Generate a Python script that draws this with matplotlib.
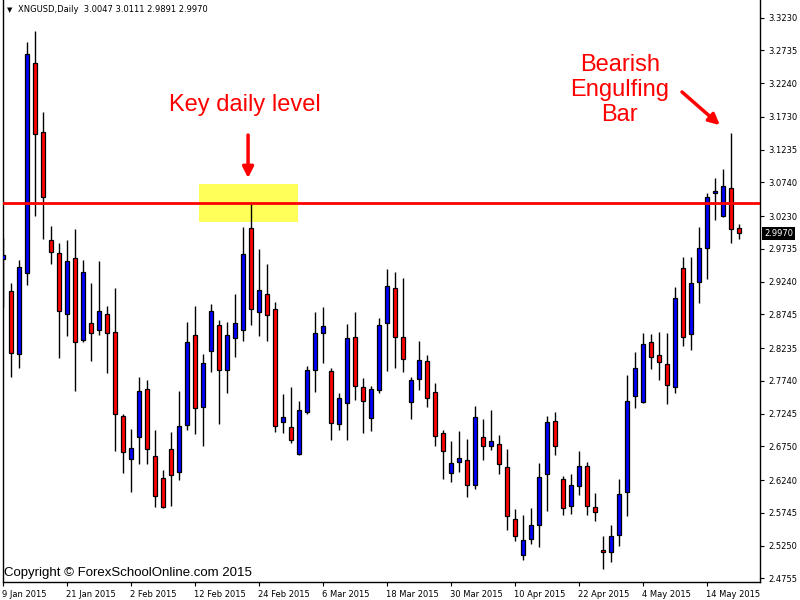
import matplotlib
matplotlib.use("Agg")
import matplotlib.pyplot as plt
import matplotlib.transforms as mtransforms
from matplotlib.patches import Rectangle
import numpy as np

# XNGUSD daily candles (open, high, low, close)
opens = [2.9583, 2.9098, 2.8145, 2.9371, 3.2549, 3.1505, 2.9870, 2.9673, 2.8750, 2.9598,
         2.8357, 2.8614, 2.8508, 2.8750, 2.8478, 2.7207, 2.6556, 2.6889, 2.7615, 2.6601,
         2.6268, 2.6707, 2.6359, 2.7070, 2.8433, 2.7343, 2.8190, 2.8584, 2.7903, 2.8387,
         2.8508, 3.0052, 2.8781, 2.9053, 2.8826, 2.7116, 2.7040, 2.6632, 2.7267, 2.7903,
         2.8463, 2.7888, 2.7086, 2.7403, 2.8402, 2.7646, 2.7176, 2.7600, 2.8614, 2.9144,
         2.8402, 2.7419, 2.7767, 2.8039, 2.7570, 2.6949, 2.6344, 2.6510, 2.6541, 2.6162,
         2.6889, 2.6753, 2.6783, 2.6435, 2.5648, 2.5103, 2.5345, 2.5557, 2.6329, 2.7131,
         2.6253, 2.5845, 2.6147, 2.6450, 2.5829, 2.5179, 2.5148, 2.5406, 2.6057, 2.7509,
         2.7419, 2.8327, 2.8130, 2.7994, 2.7646, 2.9447, 2.8448, 2.9235, 2.9749, 3.0582,
         3.0234, 3.0657, 3.0047]
highs = [2.9900, 2.9220, 2.9568, 3.2867, 3.3033, 3.1807, 3.0082, 2.9825, 2.9870, 3.0037,
         2.9568, 2.9220, 2.9552, 2.8871, 2.9144, 2.7237, 2.7010, 2.7797, 2.7752, 2.6995,
         2.6389, 2.6965, 2.7585, 2.8629, 2.8871, 2.8145, 2.8902, 2.8660, 2.8629, 2.9053,
         3.0067, 3.0430, 2.9734, 2.9507, 2.8932, 2.7540, 2.7646, 2.7434, 2.7963, 2.8781,
         2.8856, 2.7933, 2.7555, 2.8599, 2.8781, 2.7782, 2.7661, 2.8690, 2.9431, 2.9386,
         2.9295, 2.7797, 2.8342, 2.8130, 2.7706, 2.6995, 2.6828, 2.6980, 2.6859, 2.7358,
         2.7161, 2.7298, 2.6919, 2.6707, 2.5799, 2.5708, 2.5814, 2.6495, 2.7207, 2.7267,
         2.6299, 2.6329, 2.6677, 2.6510, 2.6041, 2.5391, 2.5557, 2.6253, 2.7827, 2.8175,
         2.8463, 2.8448, 2.8478, 2.8463, 2.9159, 2.9613, 2.9613, 3.0067, 3.0582, 3.0809,
         3.0945, 3.1490, 3.0111]
lows = [2.8856, 2.7797, 2.7933, 2.9189, 3.0234, 2.9885, 2.9507, 2.8084, 2.8417, 2.7585,
        2.8327, 2.8039, 2.8433, 2.7857, 2.6677, 2.6344, 2.6057, 2.6480, 2.6480, 2.5829,
        2.5814, 2.5845, 2.6238, 2.6995, 2.6934, 2.6753, 2.7873, 2.7086, 2.7555, 2.8100,
        2.8342, 2.8584, 2.8417, 2.8342, 2.6965, 2.6949, 2.6798, 2.6616, 2.7237, 2.7570,
        2.8009, 2.6843, 2.6995, 2.6843, 2.7449, 2.6949, 2.6980, 2.7555, 2.7888, 2.7933,
        2.7873, 2.7161, 2.7600, 2.7343, 2.6753, 2.6253, 2.6208, 2.6359, 2.5981, 2.6102,
        2.6541, 2.6692, 2.6329, 2.5481, 2.5315, 2.5027, 2.5270, 2.5224, 2.5769, 2.6616,
        2.5708, 2.5724, 2.6011, 2.5708, 2.5618, 2.4906, 2.4997, 2.5239, 2.5693, 2.7328,
        2.7403, 2.7918, 2.7752, 2.7388, 2.7555, 2.8266, 2.8206, 2.8917, 2.9280, 3.0173,
        3.0218, 2.9825, 2.9891]
closes = [2.9643, 2.8160, 2.9462, 3.2685, 3.1474, 3.0521, 2.9689, 2.8796, 2.9552, 2.8327,
          2.9386, 2.8463, 2.8796, 2.8463, 2.7237, 2.6662, 2.6722, 2.7585, 2.6707, 2.5996,
          2.5829, 2.6314, 2.7055, 2.8327, 2.7328, 2.8009, 2.8796, 2.7903, 2.8433, 2.8614,
          2.9658, 2.8826, 2.9114, 2.8735, 2.7055, 2.7192, 2.6843, 2.7298, 2.7903, 2.8463,
          2.8569, 2.7101, 2.7479, 2.8387, 2.7661, 2.7434, 2.7615, 2.8584, 2.9174, 2.8402,
          2.8069, 2.7752, 2.8054, 2.7479, 2.6904, 2.6677, 2.6495, 2.6571, 2.6162, 2.7192,
          2.6753, 2.6828, 2.6480, 2.5693, 2.5391, 2.5330, 2.5557, 2.6284, 2.7116, 2.6753,
          2.5814, 2.6162, 2.6450, 2.5845, 2.5754, 2.5148, 2.5391, 2.6026, 2.7434, 2.7933,
          2.8296, 2.8100, 2.8024, 2.7676, 2.8993, 2.8402, 2.9220, 2.9749, 3.0521, 3.0612,
          3.0688, 3.0040, 2.9970]

symbol = "XNGUSD,Daily"
key_level = 3.0430
zone_low, zone_high = 3.0147, 3.0718
zone_first_bar, zone_last_bar = 24.46, 36.8

price_ticks = [3.3230, 3.2735, 3.2240, 3.1730, 3.1235, 3.0740, 3.0230, 2.9735, 2.9240,
               2.8745, 2.8235, 2.7740, 2.7245, 2.6750, 2.6240, 2.5745, 2.5250, 2.4755]
date_tick_bars = [0, 8, 16, 24, 32, 40, 48, 56, 64, 72, 80, 88]
date_labels = ["9 Jan 2015", "21 Jan 2015", "2 Feb 2015", "12 Feb 2015", "24 Feb 2015",
               "6 Mar 2015", "18 Mar 2015", "30 Mar 2015", "10 Apr 2015", "22 Apr 2015",
               "4 May 2015", "14 May 2015"]

BULL = "#0000ff"
BEAR = "#ff0000"

fig = plt.figure(figsize=(8, 6), dpi=100)
ax = fig.add_axes([2.7 / 800, 18 / 600, 757.3 / 800, 582 / 600])
ax.set_facecolor("white")

o = np.array(opens)
h = np.array(highs)
l = np.array(lows)
c = np.array(closes)
x = np.arange(len(o))

# support / resistance zone and level
ax.add_patch(Rectangle((zone_first_bar, zone_low), zone_last_bar - zone_first_bar,
                       zone_high - zone_low, facecolor="#ffff5a", edgecolor="none", zorder=1))

# wicks
ax.vlines(x, l, h, color="black", linewidth=1.0, zorder=2)

# bodies
bottoms = np.minimum(o, c)
heights = np.maximum(np.abs(c - o), 0.0012)
colors = [BULL if cc >= oo else BEAR for oo, cc in zip(o, c)]
ax.bar(x, heights, bottom=bottoms, width=0.52, color=colors, edgecolor="black",
       linewidth=0.9, zorder=3)

ax.axhline(key_level, color="#ff0000", linewidth=2.0, zorder=4)

ax.set_xlim(-0.075, 94.59)
ax.set_ylim(2.4702, 3.3497)

# right price scale
ax.yaxis.tick_right()
ax.set_yticks(price_ticks)
ax.set_yticklabels([f"{p:.4f}" for p in price_ticks])
ax.tick_params(axis="y", which="major", direction="out", length=3, width=0.8,
               pad=3, labelsize=6, colors="black")

# date scale
ax.set_xticks(date_tick_bars)
ax.set_xticklabels(date_labels, ha="left")
ax.tick_params(axis="x", which="major", direction="out", length=3, width=0.8,
               pad=3, labelsize=6)
offset = mtransforms.ScaledTranslation(-1 / 100, 0, fig.dpi_scale_trans)
for lab in ax.get_xticklabels():
    lab.set_horizontalalignment("left")
    lab.set_transform(lab.get_transform() + offset)

ax.spines["top"].set_visible(False)
for side in ["left", "right", "bottom"]:
    ax.spines[side].set_linewidth(1.0)
    ax.spines[side].set_color("black")

# last price marker on the scale
trans = mtransforms.blended_transform_factory(ax.transAxes, ax.transData)
ax.text(1.0 + 4 / 757.3, c[-1], f"{c[-1]:.4f}", transform=trans, ha="left",
        va="center", fontsize=6, color="white", zorder=6, clip_on=False,
        bbox=dict(facecolor="black", edgecolor="none", pad=1.6))

# header
fig.text(10 / 800, 1 - 10 / 600, "\u25bc", fontsize=5, ha="center", va="center",
         color="black")
fig.text(18 / 800, 1 - 10 / 600,
         f"{symbol}  {o[-1]:.4f} {h[-1]:.4f} {l[-1]:.4f} {c[-1]:.4f}",
         fontsize=6, ha="left", va="center", color="black")

# copyright
ax.text(1.5 / 757.3, 9 / 582, "Copyright \u00a9 ForexSchoolOnline.com 2015",
        transform=ax.transAxes, fontsize=9.5, family="Liberation Sans",
        ha="left", va="center", color="black")

# annotations
ax.text(0.320, 0.8196, "Key daily level", transform=ax.transAxes, fontsize=17,
        family="Liberation Sans", color="#ff0000", ha="center", va="center")
ax.annotate("", xy=(0.324, 0.694), xytext=(0.324, 0.768), xycoords="axes fraction",
            textcoords="axes fraction",
            arrowprops=dict(arrowstyle="-|>", color="#ff0000", lw=2.5,
                            mutation_scale=16, shrinkA=0, shrinkB=0))
ax.text(0.815, 0.846, "Bearish\nEngulfing\nBar", transform=ax.transAxes, fontsize=17,
        family="Liberation Sans", color="#ff0000", ha="center", va="center",
        linespacing=1.17)
ax.annotate("", xy=(0.947, 0.785), xytext=(0.897, 0.842), xycoords="axes fraction",
            textcoords="axes fraction",
            arrowprops=dict(arrowstyle="-|>", color="#ff0000", lw=2.5,
                            mutation_scale=16, shrinkA=0, shrinkB=0))

fig.savefig("out.png", dpi=100)
